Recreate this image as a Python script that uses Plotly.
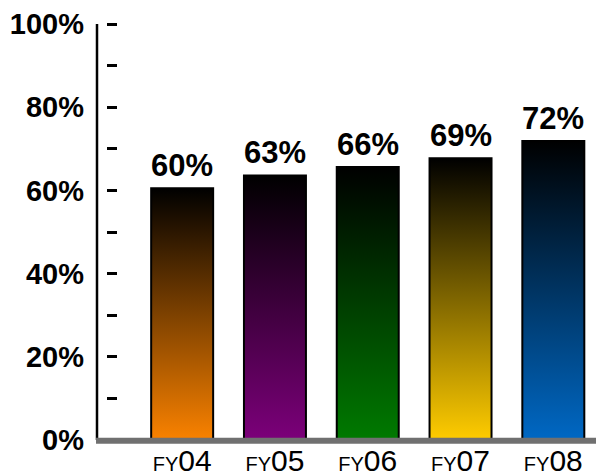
import plotly.graph_objects as go

categories = ["FY04", "FY05", "FY06", "FY07", "FY08"]
values = [60.5, 63.6, 65.6, 67.7, 71.9]
value_labels = ["60%", "63%", "66%", "69%", "72%"]
bar_colors = ["#FA8200", "#7C007A", "#007A00", "#FFCC00", "#0068C4"]
ytick_vals = [0, 10, 20, 30, 40, 50, 60, 70, 80, 90, 100]
ytick_text = ["0%", "", "20%", "", "40%", "", "60%", "", "80%", "", "100%"]

W, H = 596, 476
ML, MR, MT, MB = 107, 0, 10, 36
PX_PER_UNIT = 4.16
YR = [0, (H - MT - MB) / PX_PER_UNIT]
XR = [-0.81, 4.46]
BAR_W = 0.668
FONT = "Arial, Liberation Sans, sans-serif"

fig = go.Figure()

for i, (v, c) in enumerate(zip(values, bar_colors)):
    x0, x1 = i - BAR_W / 2, i + BAR_W / 2
    fig.add_trace(go.Scatter(
        x=[x0, x1, x1, x0, x0],
        y=[0, 0, v, v, 0],
        mode="lines",
        fill="toself",
        fillgradient=dict(type="vertical",
                          colorscale=[[0, c], [1, "#000000"]]),
        line=dict(color="black", width=2),
        hoverinfo="skip",
        showlegend=False,
    ))

for i, (v, t) in enumerate(zip(values, value_labels)):
    fig.add_annotation(x=i, y=v, text="<b>%s</b>" % t, showarrow=False,
                       yanchor="bottom", yshift=3,
                       font=dict(family=FONT, size=31, color="black"))

def ypaper(v):
    return (v - YR[0]) / (YR[1] - YR[0])

plot_w = W - ML - MR
axis_x = -10 / plot_w

# vertical axis line
fig.add_shape(type="line", xref="paper", yref="paper",
              x0=axis_x, x1=axis_x, y0=ypaper(0), y1=ypaper(100),
              line=dict(color="black", width=2.5))
# grey baseline
fig.add_shape(type="line", xref="paper", yref="paper",
              x0=axis_x - 0.002, x1=1, y0=ypaper(0) - 0.002, y1=ypaper(0) - 0.002,
              line=dict(color="#707070", width=6))

xt = ["<span style='font-size:20px'>FY</span>%s" % c[2:] for c in categories]

fig.update_layout(
    template="none",
    width=W, height=H,
    margin=dict(l=ML, r=MR, t=MT, b=MB, pad=0),
    paper_bgcolor="white", plot_bgcolor="white",
    font=dict(family=FONT, color="black"),
    xaxis=dict(range=XR, showgrid=False, zeroline=False, showline=False,
               automargin=False,
               tickvals=list(range(len(categories))), ticktext=xt,
               ticks="", tickfont=dict(size=30, family=FONT),
               ticklabelstandoff=0),
    yaxis=dict(range=YR, showgrid=False, zeroline=False, showline=False,
               automargin=False,
               tickvals=ytick_vals, ticktext=ytick_text,
               ticks="inside", ticklen=10, tickwidth=2.5, tickcolor="black",
               tickfont=dict(size=29, family=FONT, weight="bold"),
               ticklabelstandoff=22),
)

fig.write_html("out.html",
               config={"displayModeBar": False},
               post_script="document.body.style.margin='0';"
                           "document.body.style.overflow='hidden';")
